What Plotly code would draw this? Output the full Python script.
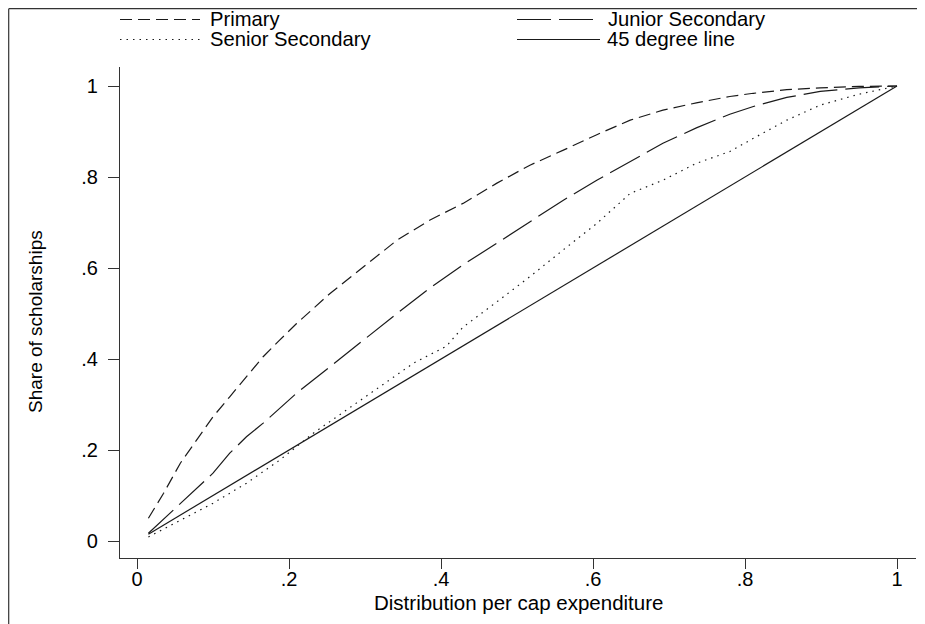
import plotly.graph_objects as go

# ---- data ----
primary_x = [0.015, 0.035, 0.057, 0.078, 0.10, 0.122, 0.144, 0.166, 0.188, 0.21, 0.254, 0.298,
             0.342, 0.385, 0.429, 0.473, 0.517, 0.561, 0.605, 0.649, 0.692, 0.736, 0.78, 0.811,
             0.855, 0.899, 0.95, 1.0]
primary_y = [0.05, 0.105, 0.171, 0.222, 0.273, 0.317, 0.361, 0.405, 0.442, 0.478, 0.544, 0.603,
             0.661, 0.705, 0.742, 0.786, 0.826, 0.859, 0.893, 0.925, 0.947, 0.963, 0.977, 0.984,
             0.992, 0.996, 0.999, 1.0]

junior_x = [0.015, 0.057, 0.10, 0.122, 0.144, 0.166, 0.21, 0.254, 0.298, 0.342, 0.386, 0.429,
            0.473, 0.517, 0.561, 0.605, 0.649, 0.692, 0.736, 0.78, 0.811, 0.855, 0.899, 0.95, 1.0]
junior_y = [0.017, 0.083, 0.149, 0.193, 0.229, 0.259, 0.325, 0.383, 0.442, 0.50, 0.557, 0.607,
            0.654, 0.702, 0.749, 0.793, 0.834, 0.874, 0.908, 0.938, 0.955, 0.975, 0.988, 0.996, 1.0]

senior_x = [0.015, 0.057, 0.10, 0.144, 0.188, 0.232, 0.276, 0.32, 0.364, 0.407, 0.429, 0.473,
            0.517, 0.561, 0.605, 0.649, 0.692, 0.736, 0.78, 0.811, 0.855, 0.899, 0.95, 1.0]
senior_y = [0.009, 0.046, 0.083, 0.127, 0.178, 0.237, 0.288, 0.339, 0.391, 0.428, 0.47, 0.525,
            0.581, 0.640, 0.698, 0.764, 0.793, 0.830, 0.856, 0.885, 0.925, 0.958, 0.982, 1.0]

line45_x = [0.015, 1.0]
line45_y = [0.015, 1.0]

x_tickvals = [0, 0.2, 0.4, 0.6, 0.8, 1]
x_ticktext = ["0", ".2", ".4", ".6", ".8", "1"]
y_tickvals = [0, 0.2, 0.4, 0.6, 0.8, 1]
y_ticktext = ["0", ".2", ".4", ".6", ".8", "1"]

series_names = ["Primary", "Junior Secondary", "Senior Secondary", "45 degree line"]

# ---- style ----
FONT = "Liberation Sans, Arial, Helvetica, sans-serif"
INK = "#1a1a1a"
AX = "#333333"
OFF = 8  # page body margin
W, H = 925 - OFF, 624 - OFF
L = 120 - OFF
T = 67 - OFF
RIGHT_EDGE = 916 - OFF
BOTTOM_EDGE = 558 - OFF
R = W - RIGHT_EDGE
B = H - BOTTOM_EDGE
PW, PH = W - L - R, H - T - B

dashes = {
    "Primary": "12px,6px",
    "Junior Secondary": "34px,8px",
    "Senior Secondary": "1.5px,5px",
    "45 degree line": "solid",
}

fig = go.Figure()
data = {
    "Primary": (primary_x, primary_y),
    "Junior Secondary": (junior_x, junior_y),
    "Senior Secondary": (senior_x, senior_y),
    "45 degree line": (line45_x, line45_y),
}
for name in series_names:
    xs, ys = data[name]
    fig.add_trace(go.Scatter(x=xs, y=ys, mode="lines", name=name, showlegend=False,
                             line=dict(color=INK, width=1.2, dash=dashes[name])))


def px_x(p):
    # p in reference-screen pixels
    return (p - OFF - L) / PW


def px_y(p):
    return (H - B - (p - OFF)) / PH


shapes = []
annotations = []
# outer frame (left and top edges)
shapes.append(dict(type="line", xref="paper", yref="paper", x0=px_x(8.7), x1=px_x(940),
                   y0=px_y(8.7), y1=px_y(8.7), line=dict(color=AX, width=1.2)))
shapes.append(dict(type="line", xref="paper", yref="paper", x0=px_x(8.7), x1=px_x(8.7),
                   y0=px_y(8.7), y1=px_y(640), line=dict(color=AX, width=1.2)))

# legend (2 columns)
legend_pos = {
    "Primary": (120, 200, 208, 19.5),
    "Junior Secondary": (517, 600, 606, 19.5),
    "Senior Secondary": (120, 200, 208, 39.5),
    "45 degree line": (517, 600, 605, 39.5),
}
for name in series_names:
    x0, x1, tx, yy = legend_pos[name]
    shapes.append(dict(type="line", xref="paper", yref="paper", x0=px_x(x0), x1=px_x(x1),
                       y0=px_y(yy), y1=px_y(yy),
                       line=dict(color=INK, width=1.2, dash=dashes[name])))
    annotations.append(dict(text=name, xref="paper", yref="paper", x=px_x(tx), y=px_y(yy),
                            xanchor="left", yanchor="middle", showarrow=False,
                            font=dict(family=FONT, size=20.2, color="#000")))

# axis titles
annotations.append(dict(text="Distribution per cap expenditure", xref="paper", yref="paper",
                        x=px_x(518), y=px_y(602), xanchor="center", yanchor="middle",
                        showarrow=False, font=dict(family=FONT, size=20.5, color="#000")))
annotations.append(dict(text="Share of scholarships", xref="paper", yref="paper",
                        x=px_x(35), y=px_y(322), xanchor="center", yanchor="middle",
                        textangle=-90, showarrow=False,
                        font=dict(family=FONT, size=19, color="#000")))

x_lo = (120 - 137) / 760
x_hi = (916 - 137) / 760
y_lo = (541 - 558) / 455
y_hi = (541 - 67) / 455

fig.update_layout(
    width=W, height=H,
    margin=dict(l=L, r=R, t=T, b=B, pad=0),
    paper_bgcolor="white", plot_bgcolor="white",
    showlegend=False,
    shapes=shapes, annotations=annotations,
    xaxis=dict(range=[x_lo, x_hi], tickvals=x_tickvals, ticktext=x_ticktext,
               showgrid=False, zeroline=False, showline=True, linecolor=AX, linewidth=1.2,
               ticks="outside", ticklen=10, tickwidth=1.2, tickcolor=AX,
               ticklabelstandoff=-7,
               tickfont=dict(family=FONT, size=20, color="#000")),
    yaxis=dict(range=[y_lo, y_hi], tickvals=y_tickvals, ticktext=y_ticktext,
               showgrid=False, zeroline=False, showline=True, linecolor=AX, linewidth=1.2,
               ticks="outside", ticklen=11, tickwidth=1.2, tickcolor=AX,
               ticklabelstandoff=6,
               tickfont=dict(family=FONT, size=20, color="#000")),
)

fig.write_html("out.html")
